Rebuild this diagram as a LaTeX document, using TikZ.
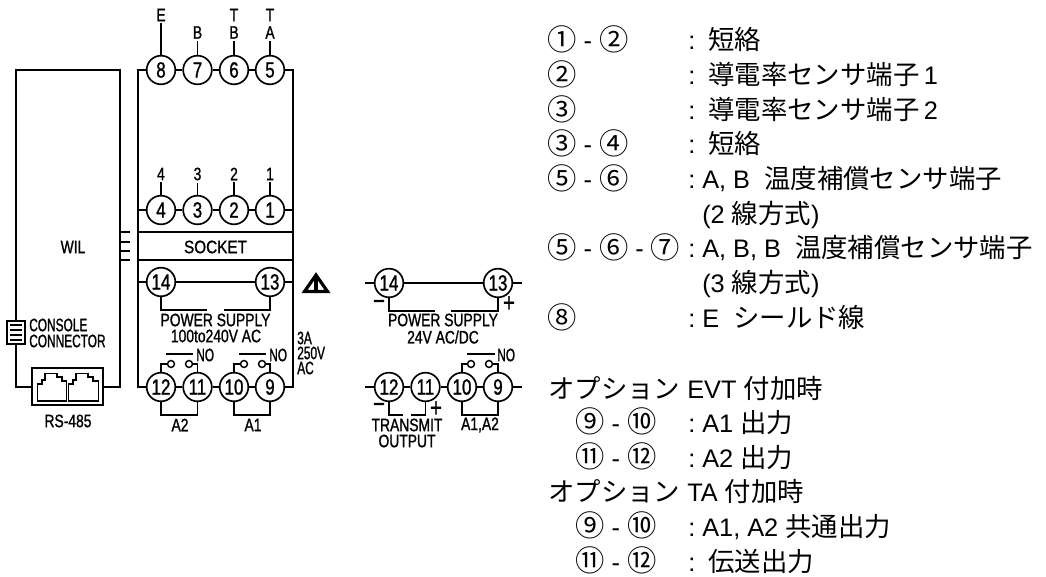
\documentclass[tikz,border=0pt]{standalone}
\usepackage{fontspec}
\setmainfont{Liberation Sans}
\newfontfamily\cadfam[FakeStretch=0.77,FakeBold=1.1]{Liberation Sans}
\newfontfamily\cadwid[FakeStretch=0.85,FakeBold=1.1]{Liberation Sans}
\newfontfamily\cadnar[FakeStretch=0.66,FakeBold=1.1]{Liberation Sans}
\newfontfamily\jpfam{Noto Sans CJK JP}
\newcommand{\jp}[1]{{\jpfam\fontsize{19.8pt}{22pt}\selectfont #1}}
\newcommand{\cn}[1]{{\jpfam\fontsize{22pt}{22pt}\selectfont\raisebox{-0.6pt}{#1}}}
\newcommand{\cadsize}{\fontsize{13.5pt}{14pt}\cadfam}
\newcommand{\narsize}{\fontsize{13.5pt}{14pt}\cadnar}
\newcommand{\termsize}{\fontsize{16.5pt}{16pt}\cadfam}
\tikzset{
  x=0.75pt,y=-0.75pt,
  wire/.style={line width=1.25pt,black,line cap=butt,line join=miter},
  term/.style={draw,circle,line width=1.25pt,minimum size=21.5pt,inner sep=0pt,font=\termsize,fill=white},
  cad/.style={inner sep=0pt,font=\cadsize,align=center},
  stemlabel/.style={inner sep=0pt,outer sep=1.6pt,font=\cadsize},
  cadl/.style={inner sep=0pt,font=\cadsize,anchor=west},
  narl/.style={inner sep=0pt,font=\narsize,anchor=west},
  leg/.style={inner sep=0pt,anchor=base west,font=\fontsize{19pt}{20pt}\selectfont},
  contact/.style={draw,circle,line width=1.1pt,minimum size=5.2pt,inner sep=0pt},
}
\begin{document}
\begin{tikzpicture}
\useasboundingbox (0,0) rectangle (1046,577);
% ---- left module
\coordinate (wtl) at (16,70);\coordinate (wtr) at (120,70);
\coordinate (wbl) at (16,387);\coordinate (wbr) at (120,387);
\node[draw,line width=1.25pt,minimum width=53pt,minimum height=27.5pt,inner sep=0pt] (rj) at (67.5,386.5) {};
\draw[wire] (rj.west |- wbl) -- (wbl) -- (wtl) -- (wtr) -- (wbr) -- (rj.east |- wbr);
\node[cad] (wil) at (73,247) {WIL};
\node[cad] (rs) at (68,421) {RS-485};
\draw[wire] (37.5,401) -- (37.5,384) -- (42,384) -- (42,380) -- (45,380) -- (45,373.5) -- (57,373.5) -- (57,377) -- (62,377) -- (62,381) -- (66.5,381) -- (66.5,401) -- cycle;
\draw[wire] (68.5,401) -- (68.5,384) -- (73,384) -- (73,380) -- (76,380) -- (76,373.5) -- (88,373.5) -- (88,377) -- (93,377) -- (93,381) -- (98.5,381) -- (98.5,401) -- cycle;
\node[draw,fill=white,line width=1.1pt,minimum width=13.5pt,minimum height=17.5pt,inner sep=0pt] (con) at (16,332.5) {};
\foreach \yy in {325,330,335,340}{\draw[line width=1pt] (10,\yy) -- (22,\yy);}
\node[narl] (c1) at (29,325) {CONSOLE};
\node[narl] (c2) at (29,341) {CONNECTOR};
% ---- ticks
\draw[wire] (120,232) -- (130,232) (120,242) -- (130,242) (120,251) -- (130,251) (120,260) -- (130,260);
% ---- terminal block
\node[term] (t8) at (161,70) {8};\node[term] (t7) at (197.5,70) {7};\node[term] (t6) at (234,70) {6};\node[term] (t5) at (270,70) {5};
\node[term] (t4) at (161,210) {4};\node[term] (t3) at (197.5,210) {3};\node[term] (t2) at (234,210) {2};\node[term] (t1) at (270,210) {1};
\node[term] (t14) at (161,282) {14};\node[term] (t13) at (270,282) {13};
\node[term] (t12) at (161,387) {12};\node[term] (t11) at (197.5,387) {11};\node[term] (t10) at (234,387) {10};\node[term] (t9) at (270,387) {9};
\coordinate (btl) at (138,70);\coordinate (btr) at (293,70);
\coordinate (bbl) at (138,387);\coordinate (bbr) at (293,387);
\draw[wire] (t8) -- (btl) -- (bbl) -- (t12);
\draw[wire] (t5) -- (btr) -- (bbr) -- (t9);
\draw[wire] (t8) -- (t7); \draw[wire] (t7) -- (t6); \draw[wire] (t6) -- (t5);
\draw[wire] (t4) -- (t3); \draw[wire] (t3) -- (t2); \draw[wire] (t2) -- (t1);
\draw[wire] (t4) -- (138,210); \draw[wire] (t1) -- (293,210);
\draw[wire] (t14) -- (t13); \draw[wire] (t14) -- (138,282); \draw[wire] (t13) -- (293,282);
\draw[wire] (t12) -- (t11); \draw[wire] (t11) -- (t10); \draw[wire] (t10) -- (t9);
\draw[wire] (138,232) -- (293,232) (138,260) -- (293,260);
\node[inner sep=0pt,font=\fontsize{13.5pt}{14pt}\cadwid] (sock) at (215.5,247) {SOCKET};
% top labels
\node[stemlabel] (lE) at (161,15) {E};\node[stemlabel] (lB) at (197.5,32.5) {B};
\node[stemlabel] (lT1) at (234,15) {T};\node[stemlabel] (lB1) at (234,32.5) {B};
\node[stemlabel] (lT2) at (270,15) {T};\node[stemlabel] (lA) at (270,32.5) {A};
\draw[wire] (t8) -- (lE); \draw[wire] (t7) -- (lB); \draw[wire] (t6) -- (lB1); \draw[wire] (t5) -- (lA);
\node[stemlabel] (l4) at (161,174) {4};\node[stemlabel] (l3) at (197.5,174) {3};\node[stemlabel] (l2) at (234,174) {2};\node[stemlabel] (l1) at (270,174) {1};
\draw[wire] (t4) -- (l4); \draw[wire] (t3) -- (l3); \draw[wire] (t2) -- (l2); \draw[wire] (t1) -- (l1);
% power
\draw[wire] (t14) -- (161,310) -- (207,310);
\draw[wire] (t13) -- (270,310) -- (224,310);
\node[cad] (ps1) at (215.5,320) {POWER SUPPLY};
\node[cad] (ps2) at (216,336) {100to240V AC};
\node[narl] (f1) at (297,338) {3A};
\node[narl] (f2) at (297,353) {250V};
\node[narl] (f3) at (297,368) {AC};
% warning
\draw[line width=2.4pt,line join=miter] (316,275) -- (327.5,291.5) -- (304.5,291.5) -- cycle;
\draw[line width=2.6pt] (316,276) -- (316,293);
% contacts
\node[contact] (a) at (171,364) {};\node[contact] (b) at (189,364) {};
\node[contact] (cc) at (244,364) {};\node[contact] (d) at (262,364) {};
\draw[wire] (t12) -- (161,364) -- (a);\draw[wire] (t11) -- (197.5,364) -- (b);
\draw[wire] (t10) -- (234,364) -- (cc);\draw[wire] (t9) -- (270,364) -- (d);
\draw[wire] (166,354) -- (193,354) (239,354) -- (266,354);
\node[narl] (no1) at (196,355) {NO};\node[narl] (no2) at (269,355) {NO};
\draw[wire] (t12) -- (161,415) -- (197.5,415) -- (t11);
\draw[wire] (t10) -- (234,415) -- (270,415) -- (t9);
\node[cad] (a2) at (180,425) {A2};\node[cad] (a1) at (253,425) {A1};
% ---- second diagram
\node[term] (u14) at (389,283) {14};\node[term] (u13) at (498,283) {13};
\node[term] (u12) at (389,387) {12};\node[term] (u11) at (425.5,387) {11};\node[term] (u10) at (462,387) {10};\node[term] (u9) at (498,387) {9};
\draw[wire] (u14) -- (u13); \draw[wire] (u14) -- (365,283); \draw[wire] (u13) -- (522,283);
\draw[wire] (u12) -- (u11); \draw[wire] (u11) -- (u10); \draw[wire] (u10) -- (u9);
\draw[wire] (u12) -- (365,387); \draw[wire] (u9) -- (522,387);
\draw[wire] (u14) -- (389,311) -- (435,311);
\draw[wire] (u13) -- (498,311) -- (451,311);
\node[cad] (m1) at (379,305) {\fontsize{20pt}{20pt}\selectfont −};
\node[cad] (p1) at (509,304) {\fontsize{20pt}{20pt}\selectfont +};
\node[cad] (qs1) at (443,320) {POWER SUPPLY};
\node[cad] (qs2) at (443,337) {24V AC/DC};
\node[contact] (e) at (471,364) {};\node[contact] (f) at (489,364) {};
\draw[wire] (u10) -- (462,364) -- (e);\draw[wire] (u9) -- (498,364) -- (f);
\draw[wire] (467,354) -- (495,354);
\node[narl] (no3) at (497,355) {NO};
\draw[wire] (u12) -- (389,415) -- (403,415);
\draw[wire] (u11) -- (425.5,415) -- (411,415);
\draw[wire] (u10) -- (462,415) -- (498,415) -- (u9);
\node[cad] (m2) at (379,408) {\fontsize{20pt}{20pt}\selectfont −};
\node[cad] (p2) at (436,409) {\fontsize{20pt}{20pt}\selectfont +};
\node[cad] (tr1) at (407,425) {TRANSMIT};
\node[cad] (tr2) at (407,441) {OUTPUT};
\node[cad] (a12) at (480,425) {A1,A2};
% ---- legend
\node[leg] (n1a) at (547,50) {\cn{①} - \cn{②}};
\node[leg] (n1b) at (688,50) {:};\node[leg] (n1c) at (708,50) {\jp{短絡}};
\node[leg] (n2a) at (547,85) {\cn{②}};
\node[leg] (n2b) at (688,85) {:};\node[leg] (n2c) at (708,85) {\jp{導電率センサ端子}\hspace{-2pt} 1};
\node[leg] (n3a) at (547,120) {\cn{③}};
\node[leg] (n3b) at (688,120) {:};\node[leg] (n3c) at (708,120) {\jp{導電率センサ端子}\hspace{-2pt} 2};
\node[leg] (n4a) at (547,154) {\cn{③} - \cn{④}};
\node[leg] (n4b) at (688,154) {:};\node[leg] (n4c) at (708,154) {\jp{短絡}};
\node[leg] (n5a) at (547,189) {\cn{⑤} - \cn{⑥}};
\node[leg] (n5b) at (688,189) {:};\node[leg] (n5c) at (702,189) {A, B\ \ \jp{温度補償センサ端子}};
\node[leg] (n5d) at (702,224) {(2 \jp{線方式})};
\node[leg] (n6a) at (547,258) {\cn{⑤} - \cn{⑥} - \cn{⑦}};
\node[leg] (n6b) at (688,258) {:};\node[leg] (n6c) at (702,258) {A, B, B\ \ \jp{温度補償センサ端子}};
\node[leg] (n6d) at (702,293) {(3 \jp{線方式})};
\node[leg] (n7a) at (547,328) {\cn{⑧}};
\node[leg] (n7b) at (688,328) {:};\node[leg] (n7c) at (702,328) {E\ \ \jp{シールド線}};
\node[leg] (o1) at (548,398) {\jp{オプション} EVT \jp{付加時}};
\node[leg] (o2a) at (575,432) {\cn{⑨} - \cn{⑩}};
\node[leg] (o2b) at (688,432) {:};\node[leg] (o2c) at (702,432) {A1 \jp{出力}};
\node[leg] (o3a) at (575,467) {\cn{⑪} - \cn{⑫}};
\node[leg] (o3b) at (688,467) {:};\node[leg] (o3c) at (702,467) {A2 \jp{出力}};
\node[leg] (o4) at (548,501) {\jp{オプション} TA \jp{付加時}};
\node[leg] (o5a) at (575,536) {\cn{⑨} - \cn{⑩}};
\node[leg] (o5b) at (688,536) {:};\node[leg] (o5c) at (702,536) {A1, A2 \jp{共通出力}};
\node[leg] (o6a) at (575,571) {\cn{⑪} - \cn{⑫}};
\node[leg] (o6b) at (688,571) {:};\node[leg] (o6c) at (708,571) {\jp{伝送出力}};
\end{tikzpicture}
\end{document}
